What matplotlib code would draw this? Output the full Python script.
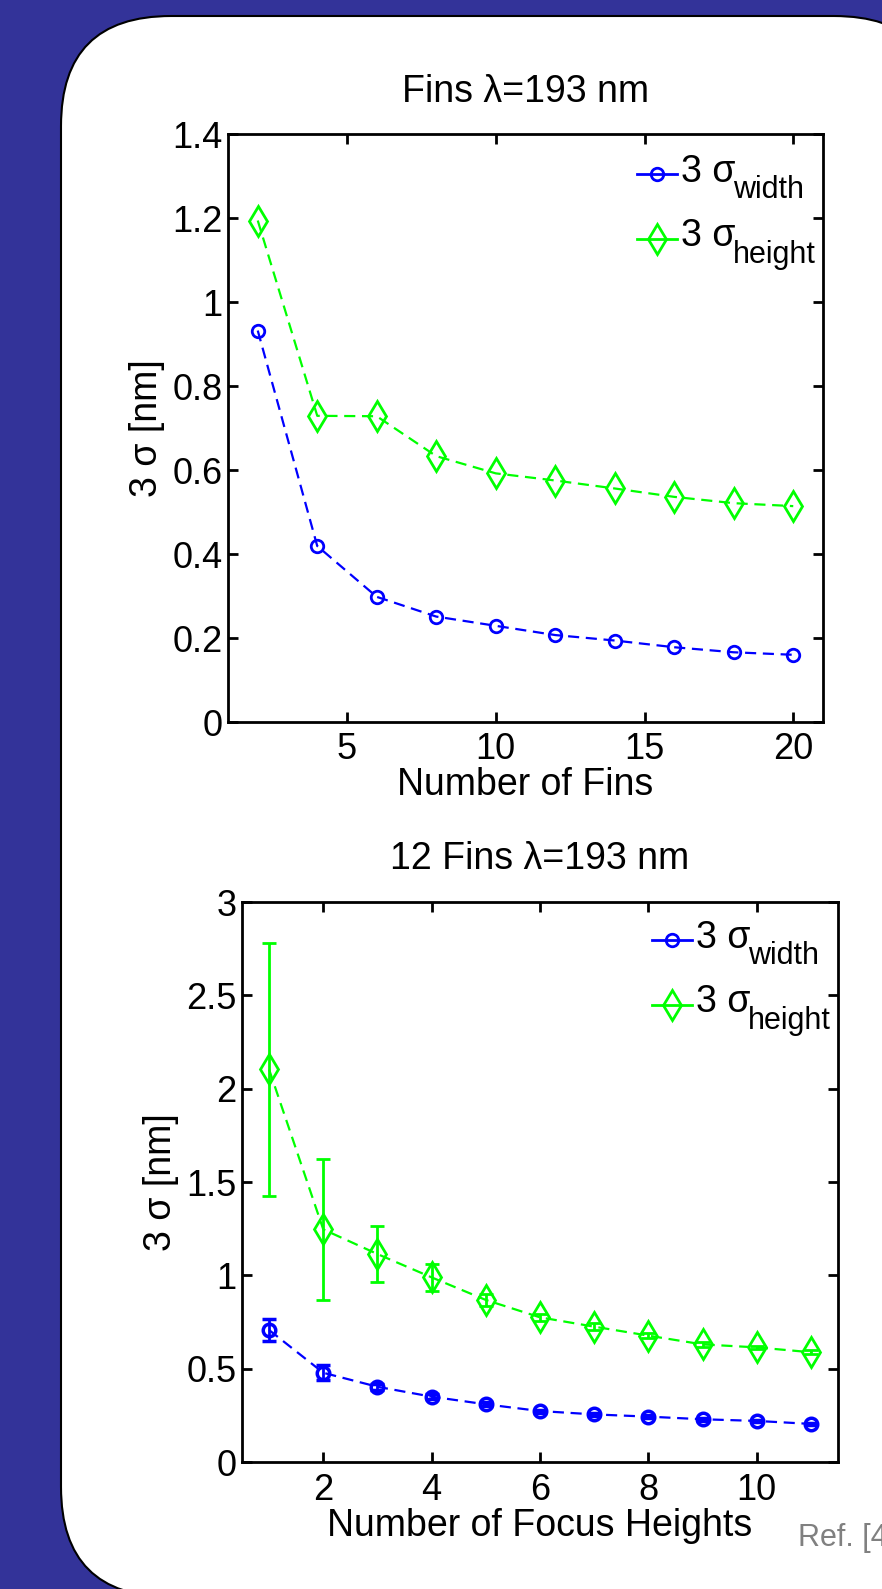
import matplotlib
matplotlib.use("Agg")
import matplotlib.pyplot as plt
from matplotlib.patches import FancyBboxPatch
from matplotlib.lines import Line2D

plt.rcParams['font.family'] = ['Liberation Sans', 'DejaVu Sans']

# ---- data ----
fins = [2, 4, 6, 8, 10, 12, 14, 16, 18, 20]
fins_width = [0.932, 0.419, 0.298, 0.251, 0.229, 0.207, 0.194, 0.178, 0.166, 0.160]
fins_height = [1.194, 0.729, 0.728, 0.633, 0.592, 0.575, 0.556, 0.536, 0.521, 0.514]

focus = [1, 2, 3, 4, 5, 6, 7, 8, 9, 10, 11]
focus_width = [0.707, 0.478, 0.403, 0.350, 0.309, 0.273, 0.255, 0.243, 0.229, 0.220, 0.204]
focus_width_err = [0.057, 0.040, 0.015, 0.012, 0.010, 0.008, 0.008, 0.007, 0.007, 0.006, 0.006]
focus_height = [2.103, 1.246, 1.114, 0.989, 0.868, 0.775, 0.725, 0.677, 0.630, 0.614, 0.588]
focus_height_err = [0.680, 0.377, 0.148, 0.074, 0.030, 0.020, 0.018, 0.015, 0.012, 0.010, 0.010]

title_top = "Fins λ=193 nm"
title_bottom = "12 Fins λ=193 nm"
xlabel_top = "Number of Fins"
xlabel_bottom = "Number of Focus Heights"
ylabel = "3 σ [nm]"
legend_main = ["3 σ", "3 σ"]
legend_sub = ["width", "height"]
ref_text = "Ref. [4"

W, H = 882, 1589
fig = plt.figure(figsize=(W / 100, H / 100), dpi=100)
fig.patch.set_facecolor('#333399')

# background white rounded panel
bg = fig.add_axes([0, 0, 1, 1], zorder=-5)
bg.set_xlim(0, W)
bg.set_ylim(H, 0)
bg.axis('off')
panel = FancyBboxPatch((61, 16), 944 - 61, 1597 - 16,
                       boxstyle="round,pad=0,rounding_size=110",
                       facecolor='white', edgecolor='black', lw=1.5)
bg.add_patch(panel)

BLUE = '#0000ff'
GREEN = '#00ff00'
FS_TICK = 26
FS = 27
DASH = (0, (5, 3))
STYLES = [dict(color=BLUE, marker='o', ms=9, mfc='none', mew=2),
          dict(color=GREEN, marker='d', ms=15, mfc='none', mew=2)]


def fx(px):
    return px / W


def fy(py):
    return 1 - py / H


def style(ax):
    for s in ax.spines.values():
        s.set_linewidth(2.0)
    ax.tick_params(direction='in', length=7, width=2, top=True, right=True,
                   labelsize=FS_TICK)
    ax.tick_params(axis='y', pad=4)


def legend(x0, y0, dy=64.5):
    # manual MATLAB-like legend: short line with marker, "3 σ" + subscript
    for i in range(2):
        yl = y0 + i * dy
        st = STYLES[i]
        fig.add_artist(Line2D([fx(x0), fx(x0 + 40)], [fy(yl), fy(yl)],
                              transform=fig.transFigure, color=st['color'], lw=2))
        fig.add_artist(Line2D([fx(x0 + 20)], [fy(yl)], transform=fig.transFigure,
                              ls='none', **st))
        fig.text(fx(x0 + 44), fy(yl + 8), legend_main[i], fontsize=FS,
                 va='baseline', ha='left')
        fig.text(fx(x0 + 96), fy(yl + 24), legend_sub[i], fontsize=22,
                 va='baseline', ha='left')


# ---- top axes ----
ax1 = fig.add_axes([fx(228), fy(722), (823 - 228) / W, (722 - 134) / H])
ax1.plot(fins, fins_width, ls=DASH, lw=1.6, **STYLES[0])
ax1.plot(fins, fins_height, ls=DASH, lw=1.6, **STYLES[1])
ax1.set_xlim(1, 21)
ax1.set_ylim(0, 1.4)
ax1.set_xticks([5, 10, 15, 20])
ax1.set_yticks([0, 0.2, 0.4, 0.6, 0.8, 1.0, 1.2, 1.4])
ax1.set_yticklabels(['0', '0.2', '0.4', '0.6', '0.8', '1', '1.2', '1.4'])
style(ax1)
ax1.tick_params(axis='x', pad=7)
ax1.set_title(title_top, fontsize=FS, pad=23)
ax1.set_xlabel(xlabel_top, fontsize=FS, labelpad=0)
ax1.set_ylabel(ylabel, fontsize=FS, labelpad=5)
legend(637, 174)

# ---- bottom axes ----
ax2 = fig.add_axes([fx(242), fy(1462), (838 - 242) / W, (1462 - 902) / H])
ax2.errorbar(focus, focus_width, yerr=focus_width_err, ls=DASH, lw=1.6,
             ecolor=BLUE, elinewidth=2, capsize=5, capthick=2,
             **dict(STYLES[0], mew=2.5))
ax2.errorbar(focus, focus_height, yerr=focus_height_err, ls=DASH, lw=1.6,
             ecolor=GREEN, elinewidth=2, capsize=5, capthick=2, **STYLES[1])
ax2.set_xlim(0.5, 11.5)
ax2.set_ylim(0, 3)
ax2.set_xticks([2, 4, 6, 8, 10])
ax2.set_yticks([0, 0.5, 1, 1.5, 2, 2.5, 3])
ax2.set_yticklabels(['0', '0.5', '1', '1.5', '2', '2.5', '3'])
style(ax2)
ax2.tick_params(axis='x', pad=8)
ax2.set_title(title_bottom, fontsize=FS, pad=24)
ax2.set_xlabel(xlabel_bottom, fontsize=FS, labelpad=0)
ax2.set_ylabel(ylabel, fontsize=FS, labelpad=5)
legend(652, 940)

fig.text(fx(798), fy(1546), ref_text, fontsize=22, color='#808080',
         ha='left', va='baseline')

fig.savefig('out.png', dpi=100, facecolor=fig.get_facecolor())
